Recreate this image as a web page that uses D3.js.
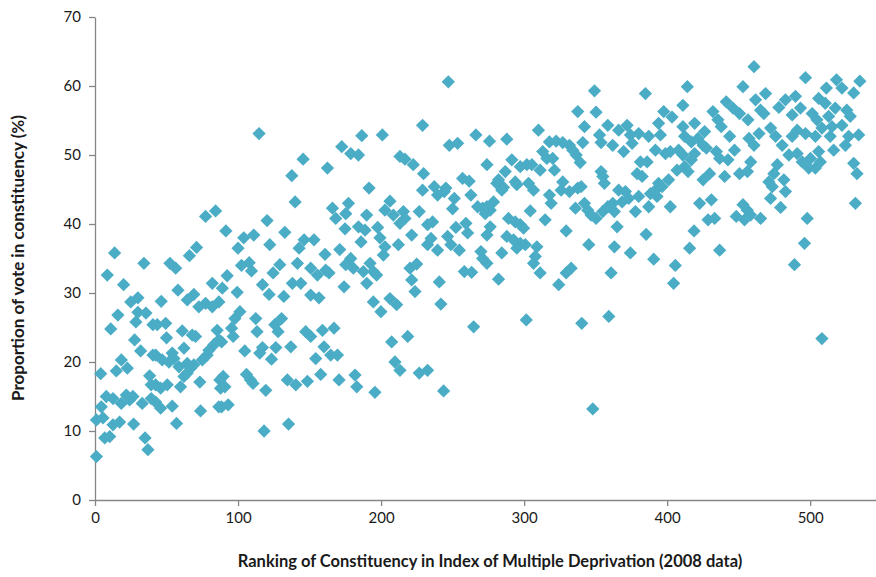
<!DOCTYPE html>
<html>
<head>
<meta charset="utf-8">
<script src="https://cdn.jsdelivr.net/npm/d3@7"></script>
<style>
  body { margin: 0; background: #fff; }
  svg text { font-family: Lato, "Open Sans", "Liberation Sans", sans-serif; fill: #1a1a1a; }
</style>
</head>
<body>
<div class="chart"></div>
<script>
// values: [rank, vote %]
var points = [
  [1,6.3],[1,11.6],[4,18.3],[4.4,13.5],[5.6,11.9],[6.8,9],[7.9,15],[8.6,32.6],[10.3,9.2],[11,24.8],
  [12.6,14.7],[12.6,10.9],[13.7,35.8],[14.9,18.7],[16,26.8],[17.2,11.3],[18.4,20.3],[18.4,14],[20,31.2],[21.9,15.2],
  [22.6,19.1],[24.2,14.5],[25,28.7],[26.5,15],[27,11],[27.7,23.2],[28.6,25.8],[30,29.3],[30,27.2],[31.9,21.6],
  [33,14],[34.2,34.3],[35,9],[35.6,27.1],[37,7.3],[38.2,18],[39.3,16.7],[39.3,14.7],[40.5,25.4],[40.5,21],
  [77.3,41.1],[84.3,41.9],[71,36.6],[66,35.4],[52.4,34.3],[56.4,33.6],[82,31.4],[58,30.4],[46.3,28.8],[64.5,29],
  [69.1,29.8],[72.6,28],[77.3,28.5],[82,28],[86.6,28.7],[89,30.7],[43.5,25.4],[49.4,25.6],[50,23.5],[61,24.5],
  [68,23.9],[70.3,23.7],[85.4,24.6],[62.2,22],[79.6,21.7],[83.1,22.5],[86.6,23.2],[42.4,21],[47,20.3],[54,21.3],
  [55.2,20.5],[51.7,20],[58.7,19.3],[64.5,19.8],[66.8,19.1],[69.1,19.6],[75,20.3],[78.4,21],[62.2,17.9],[64.5,18.4],
  [42.4,16.7],[45.9,16.2],[50.5,16.7],[59.8,16.4],[73.3,17.1],[87.3,17.4],[87.8,16.2],[42.4,14.2],[45.9,13.3],[54,13.6],
  [73.8,12.9],[86.6,13.5],[57,11.1],
  [114.7,53.1],[120.3,40.5],[91.5,39],[104,38],[111,38.4],[100,36.5],[122.2,37],[132.7,38.8],[102.4,34],[107.8,34.4],
  [109.4,33.2],[124.5,32.9],[129.2,34.1],[92.4,32.5],[117.1,31.2],[121.7,29.8],[132,29.5],[99.4,30.1],[101.3,27.3],[97.8,26.3],
  [95.5,24.9],[112.4,26.3],[113.3,24.4],[125.7,25.4],[130.4,26.3],[128,24.4],[88.5,22.9],[96.6,23.7],[104.7,21.6],[115.2,21.3],
  [117.1,22.1],[126.4,22.1],[123.4,20.4],[89.6,17.9],[90.8,16.4],[105.9,18.2],[108.7,17.4],[110.5,16.9],[119.4,15.9],[88.5,13.5],
  [93.1,13.8],[118.2,10],
  [172.5,51.2],[178.8,50.2],[145.5,49.4],[137.6,47],[162.5,48.1],[139.9,43.2],[166,42.3],[168.3,40.8],[177.2,43],[175.3,41.5],
  [174.8,39.3],[146.2,37.7],[153.1,37.7],[142.7,36.5],[160.8,35.6],[171.1,36.3],[178.8,35],[175.3,34.1],[141.5,34.3],[150.8,33.6],
  [155.5,32.6],[161.3,33.3],[163.6,32.9],[138,31.4],[143.9,31.4],[174.1,30.9],[150.8,29.7],[156.6,29.3],[147.3,24.4],[150.8,23.7],
  [159,24.6],[167.1,24.9],[136.9,22.2],[160.1,22.2],[164.8,21],[169.5,21],[154.3,20.5],[134.5,17.4],[140.4,16.7],[148.5,17.2],
  [157.8,18.2],[170.6,17.4],[135.3,11],
  [186.5,52.8],[200.9,52.9],[184.2,50],[213.2,49.8],[216.7,49.4],[222.5,48.6],[191.6,45.2],[189.9,41.3],[206.2,43.3],[202.7,42],
  [208.6,41.3],[215.6,41.8],[216.7,40.8],[213.2,40.1],[184.2,39.6],[188.8,39.1],[197.6,39.5],[221.4,38.4],[186,37.4],[199.2,38],
  [202.7,36.7],[201.6,35.5],[212.1,37],[180.6,33.6],[192.3,34.3],[187.6,33.1],[194.6,33.1],[190,31.4],[196.9,32.6],[220.2,33.6],
  [224.9,34.2],[221.4,31.9],[223.7,30.2],[194.6,28.7],[199.9,27.3],[206.2,29.2],[210.9,28.3],[207.4,22.9],[218.6,23.7],[209.7,20],
  [213.2,18.8],[181.8,18.1],[183,16.4],[195.7,15.6],
  [247,60.6],[229,54.3],[266.3,52.9],[247.7,51.4],[253.5,51.7],[229.7,47.3],[257,46.6],[261.6,46.2],[262.8,44.2],[229,44.9],
  [237.2,45.4],[239.5,44.2],[244.2,44.7],[245.3,45.2],[251.2,43.7],[250,42.2],[267.5,42.5],[271,42.3],[226.7,41.8],[232.5,39.9],
  [236,40.3],[252.3,39.5],[259.3,40.1],[260.5,38.7],[234.9,37.9],[232.5,37],[239.5,36.2],[246.5,38.2],[248.8,37],[254.7,36.2],
  [269.8,36],[271,35],[258.2,33.1],[263.3,33],[240.7,31.6],[241.8,28.4],[264.7,25.1],[226.7,18.4],[232.5,18.8],[243.7,15.8],
  [310,53.6],[275.8,52],[287.9,52.3],[313,50.5],[315.9,49.5],[311.2,47.8],[274,48.6],[291.4,49.3],[297.3,48.3],[301.9,48.6],
  [305.4,48.6],[286.8,47.6],[282.1,46.4],[280.9,45.9],[285.6,45.3],[284.4,44.9],[293.8,46.1],[294.9,45.7],[303.1,45.9],[306.6,44.9],
  [278.6,43.2],[276.3,42],[274,42.5],[272.8,41.5],[304.3,41.9],[314.7,40.6],[289.1,40.8],[293.8,40.3],[297.3,39.9],[299.6,39.4],
  [276.3,39.6],[274,38.4],[287.9,38.2],[292.6,37.7],[297.3,37.2],[294.9,36.5],[300.8,37],[308.9,36.7],[307.8,35.3],[306.6,34.3],
  [311.2,32.9],[284.4,35.8],[274,34.3],[282.1,32],[301.5,26.1],
  [349.2,59.3],[337.5,56.3],[350.3,56.2],[342.2,54.1],[358.5,54.3],[352.7,52.9],[317.7,51.9],[322.4,52],[327,51.8],[331.7,51.4],
  [334,50.7],[336.4,50],[341,51.8],[353.8,51.8],[361.9,51.4],[320,49.5],[321.2,47.8],[339.2,48.9],[353.8,47.6],[355,46.9],
  [356.1,45.9],[327,46.1],[325.9,44.9],[331.7,44.7],[337.5,45.2],[339.9,45.4],[317.7,44.2],[318.9,43],[335.9,42.3],[342.2,43],
  [344.5,42],[346.8,41.3],[350.3,40.8],[355,41.8],[358.5,42.5],[362,43],[363.1,41.8],[329.4,39],[345.2,37],[363.1,36.7],
  [332.9,33.6],[329.4,32.9],[324.2,31.2],[360.8,32.9],[359.2,26.6],[340.3,25.6],[348,13.2],
  [384.8,58.9],[397.6,56.3],[403.4,55.5],[394,54.6],[366.1,53.6],[372,54.3],[374.3,52.9],[380.1,53.1],[387.1,52.7],[395.3,52.9],
  [369.6,50.5],[375.5,51.7],[391.8,50.7],[398.8,50.2],[402.2,50.5],[408,50.7],[381.3,49],[386,49],[379,47.3],[382.5,46.9],
  [406.9,47.8],[401,46.4],[394,45.9],[391.8,44.9],[396.4,45.4],[366.1,44.9],[370.8,44.7],[368.5,43.2],[373.1,43.7],[380.1,44],
  [388.3,44.4],[377.8,41.8],[387.1,42.5],[392.9,44],[402.2,42.5],[365,39.6],[385.3,38.5],[374.3,35.8],[390.6,34.9],[405.7,34],
  [404.5,31.4],
  [414.1,59.9],[453,59.9],[411,57.2],[441.3,57.7],[446,56.8],[450.6,56],[432,56.3],[435.5,55.1],[437.8,54.1],[443.7,52.7],
  [447.1,50.7],[456.5,55.1],[411,54.1],[419.2,54.6],[426.2,53.4],[412.2,52.7],[416.9,51.9],[421.6,52.4],[425.1,51.4],[427.4,51],
  [419.2,50.2],[416.9,49.3],[434.4,50.5],[436.7,49.5],[442.5,49.3],[411,50],[412.2,48.3],[414.6,47.6],[450.6,47.3],[429.7,47.3],
  [425.1,46.4],[440.2,46.9],[422.7,43],[430.9,43.5],[428.6,40.6],[433.2,40.8],[453,42.8],[448.3,41.1],[454.1,40.6],[418.8,39],
  [415.7,36.5],[436.7,36.2],
  [460.7,62.8],[496.7,61.2],[461.8,58],[468.8,58.9],[465.3,56.5],[467.6,56],[478.1,56.9],[482.7,58],[489.7,58.5],[493.2,56.8],
  [487.4,55.8],[501.4,56],[457.2,52.4],[464.2,53.1],[460.7,51.4],[472.3,53.9],[475.8,52.7],[480.4,51.4],[487.4,52.7],[490.9,53.6],
  [496.7,53.1],[485.1,50],[490.9,50.2],[494.4,49],[500.2,49.5],[499,48.1],[458.4,49],[456.1,47.6],[477,48.6],[474.6,47.3],
  [471.1,46.1],[473.5,45.4],[481.6,46.4],[482.7,44.7],[472.3,43.7],[479.3,42.4],[456,42],[458.3,41.3],[465.3,40.8],[497.9,40.8],
  [496,37.2],[489,34.1],
  [518.4,60.9],[534.7,60.7],[511.3,59.7],[522.2,59.7],[530.4,59],[505.9,58.2],[510.5,57.5],[517.5,56.8],[525.6,56.5],[528,55.6],
  [522.2,54.3],[512.9,55.6],[515.2,54.1],[504.7,55.1],[508.2,53.9],[503.6,52.7],[505.9,50.5],[507.1,49],[503.6,48.1],[514,52.7],
  [516.4,50.7],[524.6,51.4],[526.9,52.7],[533.9,52.9],[530.4,48.8],[532.7,47.3],[531.6,43],[508.2,23.4]
];

var xTicks = [0, 100, 200, 300, 400, 500];
var yTicks = [0, 10, 20, 30, 40, 50, 60, 70];
var xTitle = "Ranking of Constituency in Index of Multiple Deprivation (2008 data)";
var yTitle = "Proportion of vote in constituency (%)";

function drawScatter() {
  const width = 876;
  const height = 577;
  const left = 95, right = 876, top = 17, bottom = 500;
  const markColor = "#4BACC6";
  const axisColor = "#868686";

  var x = d3.scaleLinear().domain([0, 546]).range([left, right]);
  var y = d3.scaleLinear().domain([0, 70]).range([bottom, top]);

  var svg = d3.select("div.chart")
              .append("svg")
              .attr("width", width)
              .attr("height", height);

  // axes
  var xAxis = svg.append("g")
      .attr("transform", "translate(0," + bottom + ")")
      .call(d3.axisBottom(x).tickValues(xTicks).tickSize(6).tickSizeOuter(0).tickPadding(6));

  var yAxis = svg.append("g")
      .attr("transform", "translate(" + left + ",0)")
      .call(d3.axisLeft(y).tickValues(yTicks).tickSize(6).tickSizeOuter(0).tickPadding(8));

  [xAxis, yAxis].forEach(function(g) {
    g.selectAll("path, line").attr("stroke", axisColor).attr("stroke-width", 1.3);
    g.selectAll("text").style("font-size", "15px").attr("fill", "#1a1a1a");
  });

  // diamonds
  var diamond = d3.symbol().type(d3.symbolSquare).size(88);

  svg.append("g")
     .selectAll("path")
     .data(points)
     .enter()
     .append("path")
     .attr("d", diamond)
     .attr("fill", markColor)
     .attr("transform", function(d) {
        return "translate(" + x(d[0]) + "," + y(d[1]) + ") rotate(45)";
     });

  // titles
  svg.append("text")
     .attr("x", 490)
     .attr("y", 567)
     .attr("text-anchor", "middle")
     .style("font-size", "16.5px")
     .style("font-weight", "bold")
     .text(xTitle);

  svg.append("text")
     .attr("transform", "translate(24," + 258 + ") rotate(-90)")
     .attr("text-anchor", "middle")
     .style("font-size", "17px")
     .style("font-weight", "bold")
     .text(yTitle);
}

drawScatter();
</script>
</body>
</html>
